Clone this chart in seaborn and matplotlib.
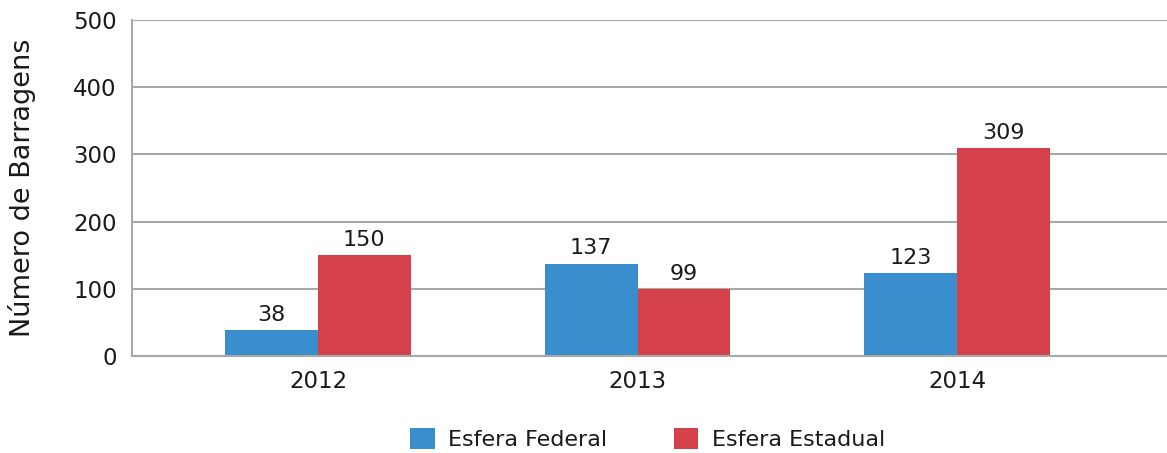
import matplotlib
matplotlib.use("Agg")
import matplotlib.pyplot as plt
import seaborn as sns
import pandas as pd

years = ["2012", "2013", "2014"]
federal = [38, 137, 123]
estadual = [150, 99, 309]
series_names = ["Esfera Federal", "Esfera Estadual"]
colors = ["#3A8ECD", "#D4414A"]
yticks = [0, 100, 200, 300, 400, 500]

df = pd.DataFrame({
    "Ano": years * 2,
    "Valor": federal + estadual,
    "Serie": [series_names[0]] * 3 + [series_names[1]] * 3,
})

sns.set_theme(style="white")
plt.rcParams["font.family"] = ["DejaVu Sans"]

fig = plt.figure(figsize=(11.67, 4.53), dpi=100)
ax = fig.add_axes([0.1131, 0.2141, 0.8869, 0.7417])

sns.barplot(data=df, x="Ano", y="Valor", hue="Serie", palette=colors,
            width=0.58, saturation=1, ax=ax, legend=True, errorbar=None,
            linewidth=0)

for cont in ax.containers:
    ax.bar_label(cont, fontsize=16, padding=4, color="#1a1a1a")

ax.set_ylim(0, 500)
ax.set_yticks(yticks)
ax.set_xlim(-0.582, 2.657)
ax.yaxis.grid(True, color="#A8A8A8", linewidth=1.5)
ax.set_axisbelow(True)
for s in ["top", "right"]:
    ax.spines[s].set_visible(False)
ax.spines["left"].set_color("#A8A8A8")
ax.spines["left"].set_linewidth(1.5)
ax.spines["bottom"].set_color("#A8A8A8")
ax.spines["bottom"].set_linewidth(1.5)
ax.tick_params(axis="y", length=0, pad=11, labelsize=16.5, labelcolor="#1a1a1a")
ax.tick_params(axis="x", length=0, pad=10, labelsize=16.5, labelcolor="#1a1a1a")
ax.set_xlabel("")
ax.set_ylabel("Número de Barragens", fontsize=19.5, color="#1a1a1a", labelpad=27)

handles, labels = ax.get_legend_handles_labels()
ax.get_legend().remove()
fig.legend(handles, labels, loc="center", bbox_to_anchor=(0.555, 0.031),
           ncol=2, frameon=False, fontsize=16, handlelength=1.1,
           handleheight=1.1, handletextpad=0.6, columnspacing=3.0,
           labelcolor="#1a1a1a")

fig.savefig("out.png", dpi=100)
